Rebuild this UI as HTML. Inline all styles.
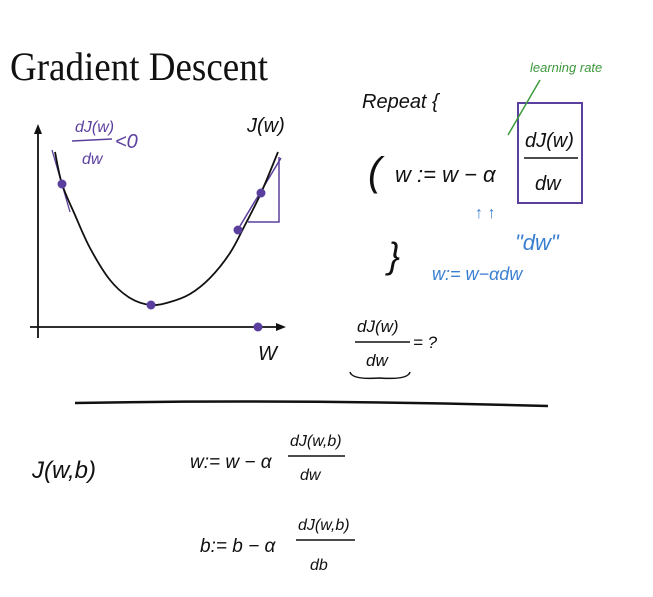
<!DOCTYPE html>
<html><head><meta charset="utf-8"><style>
html,body{margin:0;padding:0;background:#fff;width:653px;height:597px;overflow:hidden}
svg{display:block}
.h{font-family:"Liberation Sans",sans-serif;font-style:italic}
</style></head><body>
<svg id="s" width="653" height="597" viewBox="0 0 653 597">
<text x="10" y="80" font-family="Liberation Serif,serif" font-size="40" textLength="258" lengthAdjust="spacingAndGlyphs" fill="#111">Gradient Descent</text>
<g id="chart">
<line x1="38" y1="338" x2="38" y2="132" stroke="#111" stroke-width="1.8"/>
<polygon points="38,124 34,134 42,134" fill="#111"/>
<line x1="30" y1="327" x2="278" y2="327" stroke="#111" stroke-width="1.8"/>
<polygon points="286,327 276,323 276,331" fill="#111"/>
<text x="258" y="360" class="h" font-size="20" fill="#111">W</text>
<text x="247" y="132" class="h" font-size="20" fill="#111">J(w)</text>
<text x="75" y="132" class="h" font-size="16" fill="#5b3f9e">dJ(w)</text>
<line x1="72" y1="141" x2="112" y2="139" stroke="#5b3f9e" stroke-width="1.5"/>
<text x="82" y="164" class="h" font-size="16" fill="#5b3f9e">dw</text>
<text x="115" y="148" class="h" font-size="20" fill="#5b3f9e">&lt;0</text>
<line x1="240" y1="226" x2="281" y2="158" stroke="#5b3f9e" stroke-width="1.5"/>
<polyline points="279,157 279,222 248,222" fill="none" stroke="#5b3f9e" stroke-width="1.5"/>
<line x1="52" y1="150" x2="70" y2="212" stroke="#5b3f9e" stroke-width="1.3"/>
</g>
<text x="362" y="108" class="h" font-size="20" fill="#111">Repeat {</text>
<text x="368" y="185" class="h" font-size="40" fill="#111">(</text>
<text x="395" y="182" class="h" font-size="22" fill="#111">w := w − α</text>
<rect x="518" y="103" width="64" height="100" fill="none" stroke="#5b3f9e" stroke-width="2"/>
<text x="525" y="147" class="h" font-size="20" fill="#111">dJ(w)</text>
<line x1="524" y1="158" x2="578" y2="158" stroke="#111" stroke-width="1.5"/>
<text x="535" y="190" class="h" font-size="20" fill="#111">dw</text>
<text x="530" y="72" class="h" font-size="13" fill="#3c9a3c">learning rate</text>
<line x1="540" y1="80" x2="508" y2="135" stroke="#3c9a3c" stroke-width="1.5"/>
<text x="475" y="218" class="h" font-size="16" fill="#3a7fd0">↑ ↑</text>
<text x="388" y="268" class="h" font-size="36" fill="#111">}</text>
<text x="515" y="250" class="h" font-size="22" fill="#3a7fd0">"dw"</text>
<text x="432" y="280" class="h" font-size="18" fill="#3a7fd0">w:= w−αdw</text>
<text x="357" y="332" class="h" font-size="17" fill="#111">dJ(w)</text>
<line x1="355" y1="342" x2="410" y2="342" stroke="#111" stroke-width="1.5"/>
<text x="366" y="366" class="h" font-size="17" fill="#111">dw</text>
<text x="413" y="348" class="h" font-size="17" fill="#111">= ?</text>
<path d="M350 372 Q352 380 380 378 Q408 380 410 372" fill="none" stroke="#111" stroke-width="1.5"/>
<path d="M75 403 Q300 399 548 406" fill="none" stroke="#111" stroke-width="2.5"/>
<text x="32" y="478" class="h" font-size="24" fill="#111">J(w,b)</text>
<text x="190" y="468" class="h" font-size="19" fill="#111">w:= w − α</text>
<text x="290" y="446" class="h" font-size="16" fill="#111">dJ(w,b)</text>
<line x1="288" y1="456" x2="345" y2="456" stroke="#111" stroke-width="1.5"/>
<text x="300" y="480" class="h" font-size="16" fill="#111">dw</text>
<text x="200" y="552" class="h" font-size="19" fill="#111">b:= b − α</text>
<text x="298" y="530" class="h" font-size="16" fill="#111">dJ(w,b)</text>
<line x1="296" y1="540" x2="355" y2="540" stroke="#111" stroke-width="1.5"/>
<text x="310" y="570" class="h" font-size="16" fill="#111">db</text>
</svg>
<script>
const curveW=[17,24,37,52,72,92,113,132,152,172,192,207,223,240];
const curveJ=[175,143,112,79,47,29,22,25,33,49,74,102,134,175];
const dotW=[24,113,200,223,220];
const dotJ=[143,22,97,134,0];
const xScale=w=>38+w;
const yScale=j=>327-j;
const NS="http://www.w3.org/2000/svg";
const chart=document.getElementById('chart');
const pts=curveW.map((w,i)=>[xScale(w),yScale(curveJ[i])]);
let d='M'+pts[0][0]+' '+pts[0][1];
for(let i=0;i<pts.length-1;i++){
const p0=pts[Math.max(i-1,0)],p1=pts[i],p2=pts[i+1],p3=pts[Math.min(i+2,pts.length-1)];
d+=' C'+(p1[0]+(p2[0]-p0[0])/6)+' '+(p1[1]+(p2[1]-p0[1])/6)+' '+(p2[0]-(p3[0]-p1[0])/6)+' '+(p2[1]-(p3[1]-p1[1])/6)+' '+p2[0]+' '+p2[1];
}
const p=document.createElementNS(NS,'path');
p.setAttribute('d',d);p.setAttribute('fill','none');p.setAttribute('stroke','#111');p.setAttribute('stroke-width','1.8');


chart.appendChild(p);
dotW.forEach((w,i)=>{
const c=document.createElementNS(NS,'circle');
c.setAttribute('cx',xScale(w));c.setAttribute('cy',yScale(dotJ[i]));c.setAttribute('r','4.5');c.setAttribute('fill','#5b3f9e');


chart.appendChild(c);
});
</script>
</body></html>
